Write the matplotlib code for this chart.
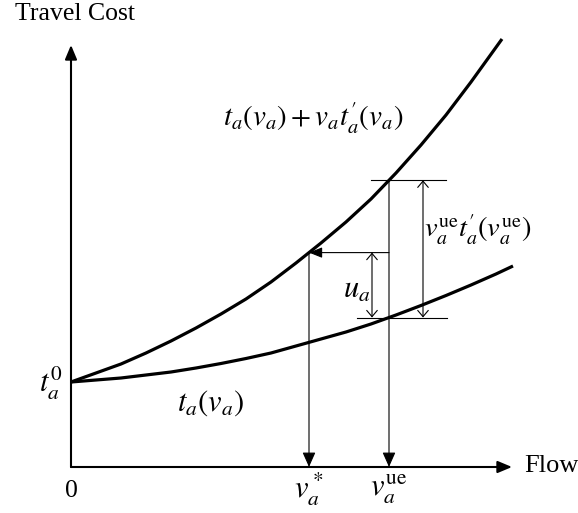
import numpy as np
import matplotlib.pyplot as plt

plt.rcParams['font.family'] = ['Liberation Serif', 'DejaVu Serif']
plt.rcParams['mathtext.fontset'] = 'stix'

# curves (flow, cost) in drawing units
flow_low = [0, 25, 50, 75, 100, 125, 150, 175, 200, 225, 250, 275, 300, 325, 350, 375, 400, 425, 442]
cost_low = [85, 87, 89, 92, 95, 99, 103.5, 108.5, 114, 121, 128, 135, 143, 152, 161.5, 171.5, 182, 193, 201]
flow_up = [0, 25, 50, 75, 100, 125, 150, 175, 200, 225, 250, 275, 300, 325, 350, 375, 400, 431]
cost_up = [85, 94, 103, 114, 126, 139, 153, 168, 185, 204, 224, 245, 268, 294, 322, 352, 385, 428]

v_star = 238   # system optimum flow
v_ue = 318     # user equilibrium flow
x_max = 441
y_max = 422

t_ue = np.interp(v_ue, flow_low, cost_low)
tt_ue = np.interp(v_ue, flow_up, cost_up)
tt_star = np.interp(v_star, flow_up, cost_up)

fig = plt.figure(figsize=(5.78, 5.13), dpi=100)
ax = fig.add_axes([0, 0, 1, 1])
ax.set_xlim(-71, 507)
ax.set_ylim(-46, 467)
ax.axis('off')

# axes with arrows
axis_arrow = dict(arrowstyle='-|>,head_length=0.86,head_width=0.36',
                  mutation_scale=10, lw=1.5, color='k', shrinkA=0, shrinkB=0)
ax.annotate('', xy=(0, y_max), xytext=(0, 0), arrowprops=axis_arrow)
ax.annotate('', xy=(x_max, 0), xytext=(0, 0), arrowprops=axis_arrow)

# curves
ax.plot(flow_low, cost_low, color='k', lw=2.3, solid_capstyle='butt')
ax.plot(flow_up, cost_up, color='k', lw=2.3, solid_capstyle='butt')

thin = 0.8
filled = dict(arrowstyle='-|>,head_length=0.9,head_width=0.4',
              mutation_scale=10, lw=thin, color='k', shrinkA=0, shrinkB=0)
openh = dict(arrowstyle='<->,head_length=0.45,head_width=0.38',
             mutation_scale=10, lw=thin, color='k', shrinkA=0, shrinkB=0)

# drop lines to the flow axis
ax.annotate('', xy=(v_ue, 0), xytext=(v_ue, tt_ue), arrowprops=filled)
ax.annotate('', xy=(v_star, 0), xytext=(v_star, tt_star), arrowprops=filled)
# horizontal arrow back to the upper curve
ax.annotate('', xy=(v_star, tt_star), xytext=(v_ue, tt_star),
            arrowprops=dict(filled, arrowstyle='-|>,head_length=0.8,head_width=0.32'))

# reference lines
ax.plot([286, 376], [t_ue, t_ue], color='k', lw=thin)
ax.plot([300, 375], [tt_ue, tt_ue], color='k', lw=thin)

# u_a and toll dimension arrows
ax.annotate('', xy=(301, tt_star), xytext=(301, t_ue), arrowprops=openh)
ax.annotate('', xy=(352, tt_ue), xytext=(352, t_ue), arrowprops=openh)

# labels
fs = 22
ax.text(-56, 453, 'Travel Cost', fontsize=18.5, ha='left', va='center')
ax.text(453, 1, 'Flow', fontsize=19, ha='left', va='center')
ax.text(0, -24, '0', fontsize=18.5, ha='center', va='center')
ax.text(v_star, -22, r'$v_a^*$', fontsize=fs, ha='center', va='center')
ax.text(v_ue, -22, r'$v_a^{\mathrm{ue}}$', fontsize=fs, ha='center', va='center')
ax.text(-20, 84, r'$t_a^0$', fontsize=fs, ha='center', va='center')
ax.text(140, 64, r'$t_a\left(v_a\right)$', fontsize=fs, ha='center', va='center')
ax.text(242, 349, r"$t_a\left(v_a\right)+v_at_a^{\prime}\left(v_a\right)$", fontsize=21,
        ha='center', va='center')
ax.text(286, 177, r'$u_a$', fontsize=fs, ha='center', va='center')
ax.text(407, 237, r"$v_a^{\mathrm{ue}}t_a^{\prime}\left(v_a^{\mathrm{ue}}\right)$", fontsize=20.5,
        ha='center', va='center')

fig.savefig('out.png', dpi=100)
